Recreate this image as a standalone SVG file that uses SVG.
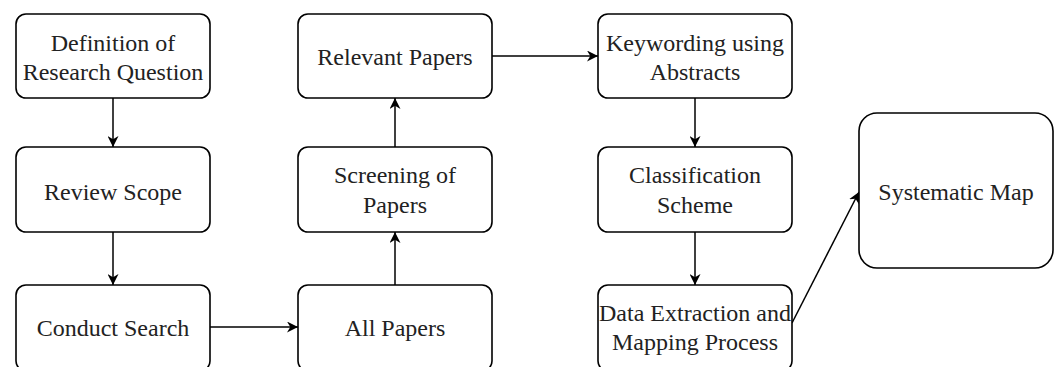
<svg xmlns="http://www.w3.org/2000/svg" width="1059" height="367" viewBox="0 0 1059 367">
<style>
.box{fill:#fff;stroke:#000;stroke-width:1.6}
.t{font-family:"Liberation Serif","Times New Roman",serif;font-size:24px;fill:#222;text-anchor:middle}
.c{fill:none;stroke:#000;stroke-width:1.5;marker-end:url(#arr)}
</style>
<defs>
<marker id="arr" viewBox="0 0 10 10" refX="10" refY="5" markerWidth="11" markerHeight="11" markerUnits="userSpaceOnUse" orient="auto">
<path d="M0,0 L10,5 L0,10 L3,5 Z" fill="#000"/>
</marker>
</defs>
<rect width="1059" height="367" fill="#fff"/>
<g id="connectors">
<line class="c" x1="113" y1="98" x2="113" y2="147"/>
<line class="c" x1="113" y1="232" x2="113" y2="285"/>
<line class="c" x1="210" y1="327" x2="298" y2="327"/>
<line class="c" x1="395" y1="285" x2="395" y2="232"/>
<line class="c" x1="395" y1="147" x2="395" y2="98"/>
<line class="c" x1="492" y1="56" x2="598" y2="56"/>
<line class="c" x1="695" y1="98" x2="695" y2="147"/>
<line class="c" x1="695" y1="232" x2="695" y2="285"/>
<line class="c" x1="792" y1="323" x2="859" y2="192"/>
</g>
<g id="n1"><rect class="box" x="16" y="14" width="194" height="84" rx="10"/><text class="t" x="113" y="51">Definition of</text><text class="t" x="113" y="80">Research Question</text></g>
<g id="n2"><rect class="box" x="16" y="147" width="194" height="85" rx="10"/><text class="t" x="113" y="200">Review Scope</text></g>
<g id="n3"><rect class="box" x="16" y="285" width="194" height="86" rx="10"/><text class="t" x="113" y="336">Conduct Search</text></g>
<g id="n4"><rect class="box" x="298" y="285" width="194" height="86" rx="10"/><text class="t" x="395" y="336">All Papers</text></g>
<g id="n5"><rect class="box" x="298" y="147" width="194" height="85" rx="10"/><text class="t" x="395" y="183">Screening of</text><text class="t" x="395" y="213">Papers</text></g>
<g id="n6"><rect class="box" x="298" y="14" width="194" height="84" rx="10"/><text class="t" x="395" y="65">Relevant Papers</text></g>
<g id="n7"><rect class="box" x="598" y="14" width="194" height="84" rx="10"/><text class="t" x="695" y="51">Keywording using</text><text class="t" x="695" y="80">Abstracts</text></g>
<g id="n8"><rect class="box" x="598" y="147" width="194" height="85" rx="10"/><text class="t" x="695" y="183">Classification</text><text class="t" x="695" y="213">Scheme</text></g>
<g id="n9"><rect class="box" x="598" y="285" width="194" height="86" rx="10"/><text class="t" x="695" y="321">Data Extraction and</text><text class="t" x="695" y="350">Mapping Process</text></g>
<g id="n10"><rect class="box" x="859" y="113" width="194" height="155" rx="18"/><text class="t" x="956" y="200">Systematic Map</text></g>
</svg>
